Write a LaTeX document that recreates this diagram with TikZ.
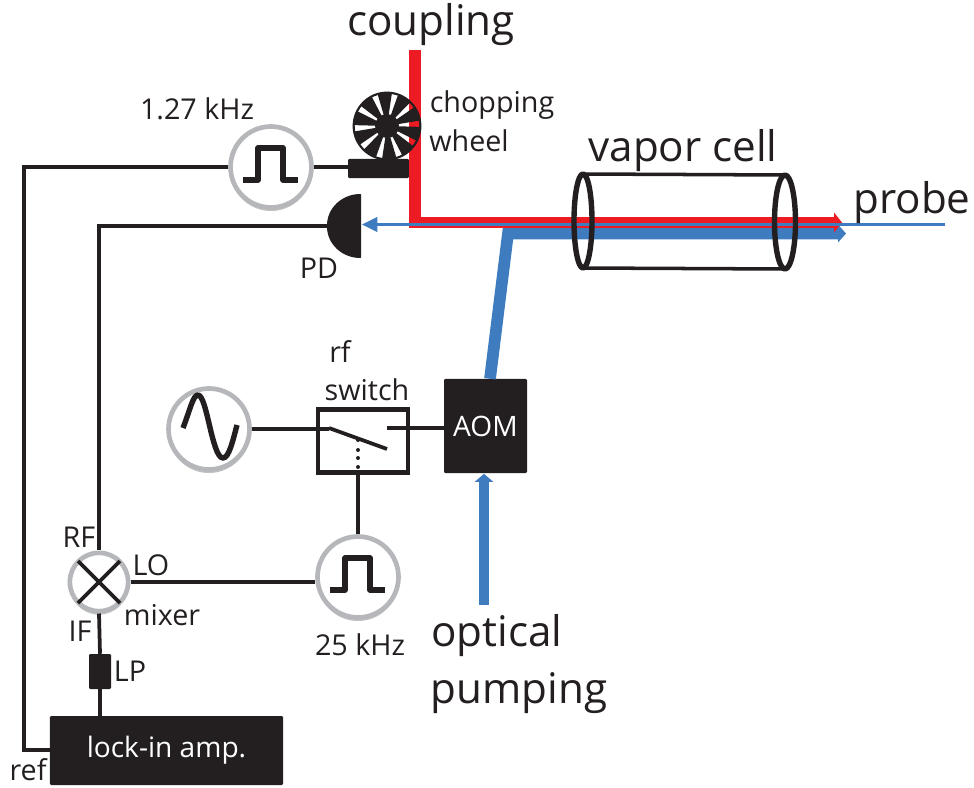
\documentclass[tikz,border=0pt]{standalone}
\usepackage{fontspec}
\setmainfont{Open Sans}
\usetikzlibrary{positioning,arrows.meta,shadows}
\definecolor{ink}{HTML}{231F20}
\definecolor{ring}{HTML}{B5B7BA}
\definecolor{cpump}{HTML}{3F7CBF}
\definecolor{ccoup}{HTML}{ED1C24}
\tikzset{
  wire/.style={draw=ink, line width=3.2pt},
  gen/.style={circle, draw=ring, line width=4pt, fill=white, minimum size=2.43cm, inner sep=0pt,
              drop shadow={shadow xshift=0pt, shadow yshift=-3pt, opacity=0.4, fill=black!60}},
  mix/.style={gen, minimum size=1.75cm},
  blk/.style={rectangle, fill=ink, rounded corners=1pt, inner sep=0pt, text=white, font=\fontsize{24}{28}\selectfont},
  sym/.style={draw=ink, line width=4.6pt, line join=round},
  lbl/.style={text=ink, inner sep=0pt, font=\fontsize{24.5}{29}\selectfont},
  biglbl/.style={text=ink, inner sep=0pt, font=\fontsize{36}{42}\selectfont},
  pumpbeam/.style={draw=cpump, line width=9pt},
  coupbeam/.style={draw=ccoup, line width=9.4pt},
  probebeam/.style={draw=cpump, line width=1.8pt},
}
\newcommand{\pulsesym}[1]{\draw[sym] ([shift={(-28,13)}]#1.center) -- ++(15,0) -- ++(0,-32) -- ++(25,0) -- ++(0,32) -- ++(15,0);}
\begin{document}
\begin{tikzpicture}[x=0.03cm,y=-0.03cm]
  \useasboundingbox (0,0) rectangle (974,788);
  % beams
  \coordinate (pumpin) at (484,605);
  \coordinate (pumpbend) at (508,233.5);
  \coordinate (pumpend) at (846,233.5);
  \coordinate (coupin) at (415,50);
  \coordinate (coupbend) at (415,222.5);
  \coordinate (coupend) at (842,222.5);
  \coordinate (probein) at (945,224.5);
  % boxes
  \node[blk, minimum width=2.49cm, minimum height=2.82cm] (aom) at (485.5,426) {AOM};
  \node[blk, minimum width=6.99cm, minimum height=2.07cm] (lockin) at (166.5,750.5) {lock-in amp.};
  \node[blk, minimum width=0.66cm, minimum height=1.05cm] (lp) at (100,671.5) {};
  \node[blk, minimum width=1.83cm, minimum height=0.57cm] (mount) at (378.5,168.5) {};
  \node[draw=ink, line width=4pt, minimum width=2.7cm, minimum height=1.9cm, inner sep=0pt] (switch) at (363,441) {};
  % sources
  \node[gen] (chopgen) at (271,167) {};
  \node[gen] (sinegen) at (209,429) {};
  \node[gen] (modgen) at (358,577) {};
  \node[mix] (mixer) at (99,582) {};
  % beams, pump below the rest
  \draw[pumpbeam, -{Triangle[length=2.4mm,width=5.4mm]}, shorten >=0.5pt] (pumpin) -- (aom.south -| pumpin);
  \draw[pumpbeam, line width=10pt, line join=miter] (aom.north -| 490,0) -- (pumpbend) -- ([xshift=-0.24cm]pumpend);
  \fill[cpump] ([shift={(-8,-9)}]pumpend) -- (pumpend) -- ([shift={(-8,9)}]pumpend) -- cycle;
  \draw[coupbeam, line join=miter] (coupin) -- (coupbend) -- ([xshift=-0.2cm]coupend);
  \fill[ccoup] ([shift={(-8,-10)}]coupend) -- (coupend) -- ([shift={(-8,10)}]coupend) -- cycle;
  \draw[probebeam, -{Triangle[length=4.6mm,width=4.4mm]}] (probein) -- (362,224.5);
  % vapor cell
  \coordinate (cellleft) at (583,221);
  \coordinate (cellright) at (785,222);
  \draw[sym, line width=3pt] ([yshift=1.41cm]cellleft) -- ([yshift=1.41cm]cellright);
  \draw[sym, line width=3pt] ([yshift=-1.41cm]cellleft) -- ([yshift=-1.41cm]cellright);
  \draw[sym] (cellleft) ellipse[x radius=9, y radius=47];
  \draw[sym] (cellright) ellipse[x radius=10.5, y radius=47];
  % chopping wheel
  \coordinate (wheel) at (387,126);
  \draw[draw=ink, line width=1.8pt] (wheel) circle[radius=1.0cm];
  \foreach \a in {4,40,76,112,148,184,220,256,292,328} {
    \fill[ink] (wheel) -- +(\a+5.5:1.0cm) arc[start angle=\a+5.5, delta angle=25, radius=1.0cm] -- cycle;
  }
  \fill[ink] (wheel) circle[radius=0.36cm];
  % photodiode
  \coordinate (pd) at (327,226);
  \fill[ink, rounded corners=0.5pt] (361,194) .. controls (342,194) and (327,208) .. (327,226)
     .. controls (327,244) and (342,258) .. (361,258) -- cycle;
  % wiring
  \draw[wire] (chopgen.west) -| (24,750) -- (lockin.west |- 0,750);
  \draw[wire] (chopgen.east) -- (mount.west |- chopgen.east);
  \draw[wire] (pd) -- (99,226) -- (mixer.north);
  \draw[wire] (mixer.south) -- (lp.north);
  \draw[wire] (lp.south) -- (lockin.north -| lp.south);
  \draw[wire] (mixer.east) -- (mixer.east -| modgen.west);
  \draw[wire] (modgen.north) -- (switch.south -| modgen.north);
  \draw[wire] (sinegen.east) -- (329,429);
  \draw[wire] (329,428) -- (387,449);
  \draw[wire] (387,428) -- (aom.west |- 0,428);
  \foreach \y in {440,450,458,467} \fill[ink] (358,\y) circle[radius=0.06cm];
  % symbols
  \pulsesym{chopgen}
  \pulsesym{modgen}
  \draw[sym] (183,428) .. controls (190,410) and (193,395) .. (198,395)
     .. controls (207,395) and (212,458) .. (223,458)
     .. controls (229,458) and (233,440) .. (237,425);
  \draw[wire] (78,561) -- (120,603);
  \draw[wire] (120,561) -- (78,603);
  % labels
  \node[biglbl] (tcoup) at (431,25) {coupling};
  \node[biglbl] (tcell) at (683,151) {vapor cell};
  \node[biglbl] (tprobe) at (912,203) {probe};
  \node[biglbl] (topt) at (497,636) {optical};
  \node[biglbl] (tpump) at (519,693) {pumping};
  \node[lbl] (tchop) at (492,105) {chopping};
  \node[lbl] (twheel) at (469,141) {wheel};
  \node[lbl] (tfreqa) at (197,109) {1.27 kHz};
  \node[lbl] (tfreqb) at (360,645) {25 kHz};
  \node[lbl] (tpd) at (319,268) {PD};
  \node[lbl] (trf) at (340,352) {rf};
  \node[lbl] (tswitch) at (367,390) {switch};
  \node[lbl] (tRF) at (79,537) {RF};
  \node[lbl] (tLO) at (151,565) {LO};
  \node[lbl] (tmixer) at (162,615) {mixer};
  \node[lbl] (tIF) at (80,631) {IF};
  \node[lbl] (tLP) at (130,671) {LP};
  \node[lbl] (tref) at (28,770) {ref};
\end{tikzpicture}
\end{document}
